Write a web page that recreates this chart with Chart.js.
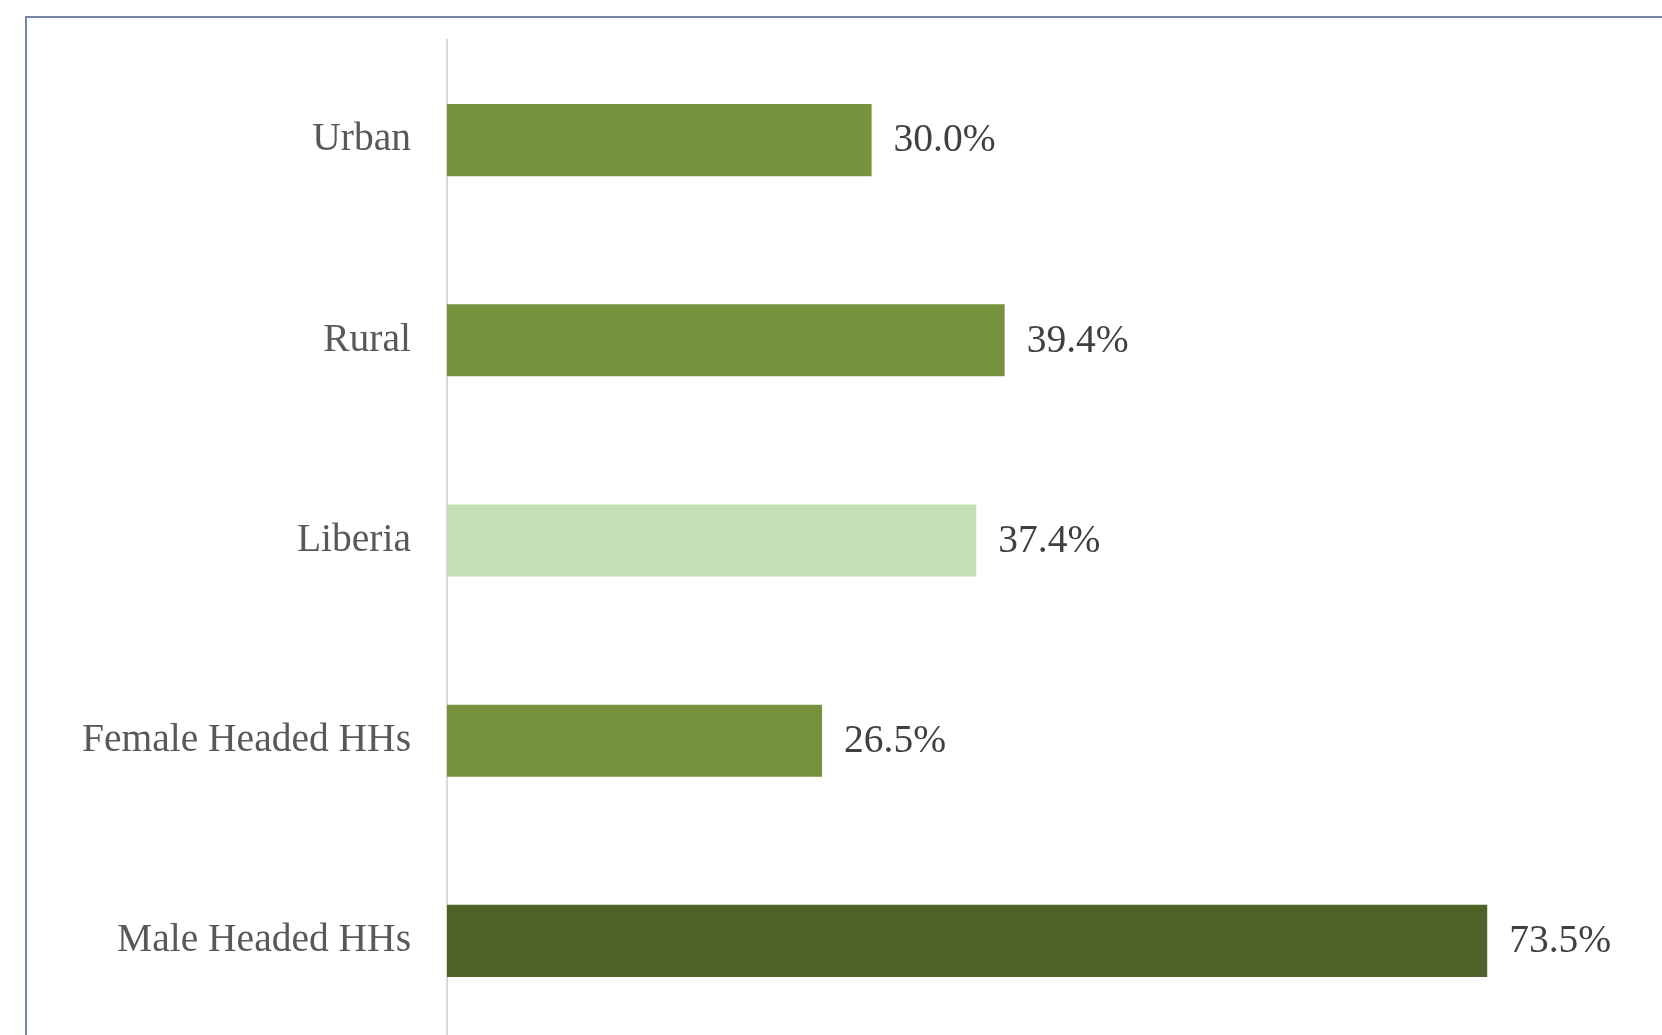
<!DOCTYPE html>
<html>
<head>
<meta charset="utf-8">
<style>
  html, body { margin: 0; padding: 0; background: #ffffff; overflow: hidden; }
  #wrap { position: absolute; left: 0; top: 0; width: 1662px; height: 1060px; }
</style>
<script src="https://cdn.jsdelivr.net/npm/chart.js@4/dist/chart.umd.min.js"></script>
</head>
<body>
<div id="wrap"><canvas id="c" width="1662" height="1060"></canvas></div>
<script>
const categories = ["Urban", "Rural", "Liberia", "Female Headed HHs", "Male Headed HHs"];
const values = [30.0, 39.4, 37.4, 26.5, 73.5];
const barColors = ["#77923C", "#77923C", "#C4DFB4", "#77923C", "#4F6228"];

const frameAndLabels = {
  id: 'frameAndLabels',
  beforeDraw(chart) {
    const ctx = chart.ctx;
    ctx.save();
    ctx.strokeStyle = '#7386AC';
    ctx.lineWidth = 2;
    ctx.strokeRect(26, 17, 3000, 3000);
    ctx.restore();
  },
  afterDatasetsDraw(chart) {
    const ctx = chart.ctx;
    const meta = chart.getDatasetMeta(0);
    ctx.save();
    ctx.font = '39.5px "Liberation Serif", "Times New Roman", serif';
    ctx.fillStyle = '#404040';
    ctx.textAlign = 'left';
    ctx.textBaseline = 'middle';
    meta.data.forEach((bar, i) => {
      const v = chart.data.datasets[0].data[i];
      ctx.fillText(v.toFixed(1) + '%', bar.x + 22, bar.y + 1);
    });
    ctx.restore();
  }
};

new Chart(document.getElementById('c'), {
  type: 'bar',
  data: {
    labels: categories,
    datasets: [{
      data: values,
      backgroundColor: barColors,
      borderWidth: 0,
      barPercentage: 0.72,
      categoryPercentage: 0.5
    }]
  },
  options: {
    indexAxis: 'y',
    responsive: false,
    animation: false,
    devicePixelRatio: 1,
    layout: { padding: { left: 0, right: 12, top: 40, bottom: 19 } },
    plugins: { legend: { display: false }, tooltip: { enabled: false } },
    scales: {
      x: { display: false, min: 0, max: 85 },
      y: {
        afterFit(scale) {
          scale.width = 447;
          scale.paddingTop = 0;
          scale.paddingBottom = 0;
        },
        grid: { display: false, drawTicks: false },
        border: { display: true, color: '#D9D9D9', width: 2 },
        ticks: {
          padding: 36,
          color: '#595959',
          font: { family: '"Liberation Serif", "Times New Roman", serif', size: 39.5 }
        }
      }
    }
  },
  plugins: [frameAndLabels]
});
</script>
</body>
</html>
